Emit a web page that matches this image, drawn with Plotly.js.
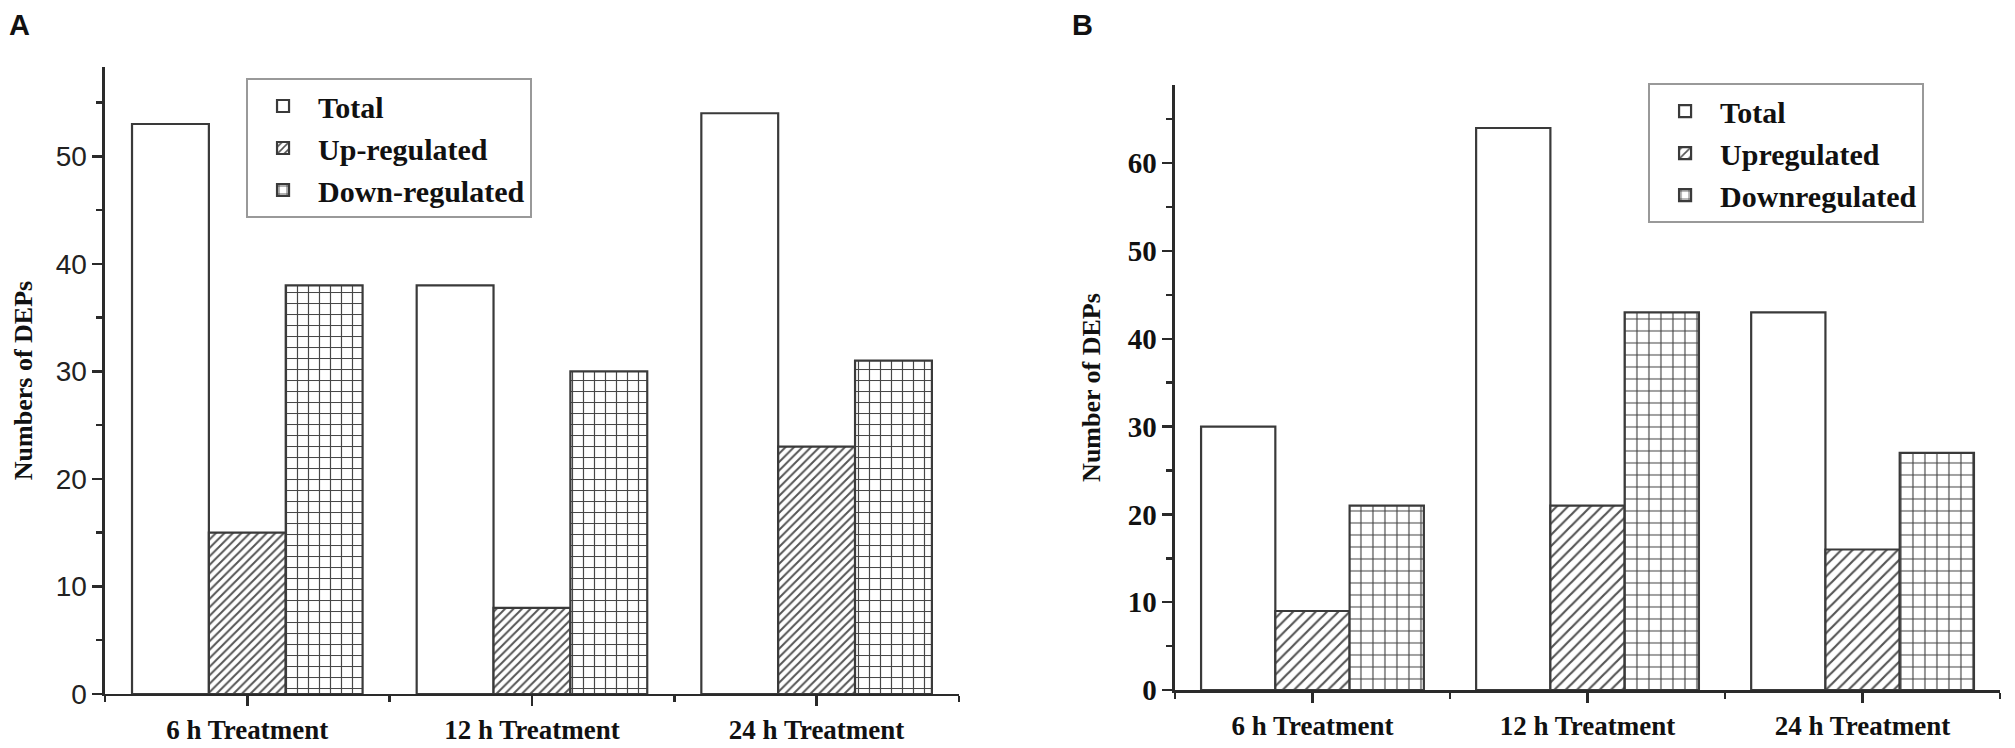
<!DOCTYPE html>
<html>
<head>
<meta charset="utf-8">
<script src="https://cdn.plot.ly/plotly-3.0.1.min.js"></script>
<style>
  html, body { margin: 0; padding: 0; background: #fff; }
  #chart { width: 2015px; height: 748px; }
</style>
</head>
<body>
<div id="chart"></div>
<script>
const categories = ['6 h Treatment', '12 h Treatment', '24 h Treatment'];

// panel A
const totalA = [53, 38, 54];
const upA = [15, 8, 23];
const downA = [38, 30, 31];
const namesA = ['Total', 'Up-regulated', 'Down-regulated'];

// panel B
const totalB = [30, 64, 43];
const upB = [9, 21, 16];
const downB = [21, 43, 27];
const namesB = ['Total', 'Upregulated', 'Downregulated'];

const xPos = categories.map((c, i) => i);
const edges = [-0.5, 0.5, 1.5, 2.5];

const serif = 'Liberation Serif, Times New Roman, serif';
const sans = 'Liberation Sans, Arial, sans-serif';
const ink = '#2a2a2a';
const barLine = { color: '#3a3a3a', width: 2.2 };

function bars(values, name, pattern, xa, ya, legend) {
  return {
    type: 'bar',
    x: xPos,
    y: values,
    name: name,
    xaxis: xa,
    yaxis: ya,
    legend: legend,
    marker: {
      color: '#fff',
      line: barLine,
      pattern: pattern,
    },
    hoverinfo: 'y+name',
  };
}

const noPat = { shape: '' };
const hatchA = { shape: '/', size: 6, solidity: 0.33, fgcolor: '#555', bgcolor: '#fff', fillmode: 'replace' };
const gridA = { shape: '+', size: 11, solidity: 0.2, fgcolor: '#444', bgcolor: '#fff', fillmode: 'replace' };
const hatchB = { shape: '/', size: 8, solidity: 0.27, fgcolor: '#555', bgcolor: '#fff', fillmode: 'replace' };
const gridB = { shape: '+', size: 12, solidity: 0.18, fgcolor: '#444', bgcolor: '#fff', fillmode: 'replace' };

const data = [
  bars(totalA, namesA[0], noPat, 'x', 'y', 'legend'),
  bars(upA, namesA[1], hatchA, 'x', 'y', 'legend'),
  bars(downA, namesA[2], gridA, 'x', 'y', 'legend'),
  bars(totalB, namesB[0], noPat, 'x2', 'y2', 'legend2'),
  bars(upB, namesB[1], hatchB, 'x2', 'y2', 'legend2'),
  bars(downB, namesB[2], gridB, 'x2', 'y2', 'legend2'),
];

function xAxis(domain, anchor) {
  return {
    domain: domain,
    anchor: anchor,
    type: 'linear',
    range: [-0.5, 2.5],
    tickmode: 'array',
    tickvals: xPos,
    ticktext: categories,
    ticks: 'outside',
    ticklen: 10,
    tickwidth: 2.5,
    tickcolor: ink,
    minor: { tickmode: 'array', tickvals: edges, ticks: 'outside', ticklen: 6, tickwidth: 2.5, tickcolor: ink },
    showline: true,
    linecolor: ink,
    linewidth: 2.5,
    showgrid: false,
    zeroline: false,
    tickfont: { family: serif, size: 27, color: '#111', weight: 'bold' },
    fixedrange: true,
  };
}

function yAxis(domain, anchor, top, title, tickfont, standoff) {
  return {
    domain: domain,
    anchor: anchor,
    range: [0, top],
    dtick: 10,
    ticks: 'outside',
    ticklen: 10,
    tickwidth: 2.5,
    tickcolor: ink,
    minor: { dtick: 5, ticks: 'outside', ticklen: 6, tickwidth: 2.5, tickcolor: ink },
    showline: true,
    linecolor: ink,
    linewidth: 2.5,
    showgrid: false,
    zeroline: false,
    tickfont: tickfont,
    title: { text: title, standoff: standoff, font: { family: serif, size: 26, color: '#111', weight: 'bold' } },
    fixedrange: true,
  };
}

function legendBox(x, y) {
  return {
    x: x, y: y,
    xanchor: 'left', yanchor: 'top',
    bgcolor: '#fff',
    bordercolor: '#999',
    borderwidth: 2,
    font: { family: serif, size: 30, color: '#111', weight: 'bold' },
    traceorder: 'normal',
    itemwidth: 60,
  };
}

const layout = {
  width: 2015,
  height: 748,
  margin: { l: 0, r: 0, t: 0, b: 0 },
  paper_bgcolor: '#fff',
  plot_bgcolor: '#fff',
  barmode: 'group',
  bargap: 0.19,
  bargroupgap: 0,
  xaxis: xAxis([0.0521, 0.4759], 'y'),
  yaxis: yAxis([0.0722, 0.9104], 'x', 58.3, 'Numbers of DEPs',
    { family: sans, size: 28, color: '#222' }, 16),
  xaxis2: xAxis([0.5831, 0.9926], 'y2'),
  yaxis2: yAxis([0.0775, 0.8864], 'x2', 68.9, 'Number of DEPs',
    { family: serif, size: 29, color: '#111', weight: 'bold' }, 20),
  legend: legendBox(0.1221, 0.8957),
  legend2: legendBox(0.8179, 0.889),
  annotations: [
    { text: 'A', xref: 'paper', yref: 'paper', x: 0.0035, y: 0.99, xanchor: 'left', yanchor: 'top',
      showarrow: false, font: { family: sans, size: 29, color: '#111', weight: 'bold' } },
    { text: 'B', xref: 'paper', yref: 'paper', x: 0.531, y: 0.99, xanchor: 'left', yanchor: 'top',
      showarrow: false, font: { family: sans, size: 29, color: '#111', weight: 'bold' } },
  ],
  showlegend: true,
};

Plotly.newPlot('chart', data, layout, { displayModeBar: false, staticPlot: true });
</script>
</body>
</html>
